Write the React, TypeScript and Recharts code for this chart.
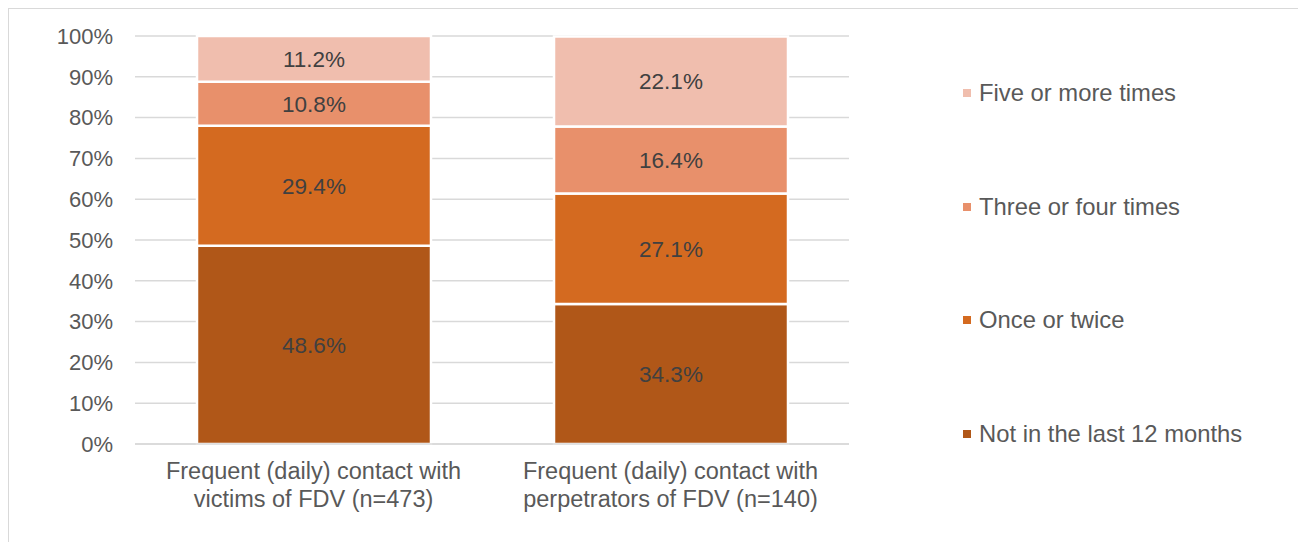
import React from "react";
import {
  BarChart,
  Bar,
  XAxis,
  YAxis,
  CartesianGrid,
  LabelList,
} from "recharts";

const categories = [
  "Frequent (daily) contact with|victims of FDV (n=473)",
  "Frequent (daily) contact with|perpetrators of FDV (n=140)",
];
const notInLast12 = [48.6, 34.3];
const onceOrTwice = [29.4, 27.1];
const threeOrFour = [10.8, 16.4];
const fiveOrMore = [11.2, 22.1];
const yTicks = [0, 10, 20, 30, 40, 50, 60, 70, 80, 90, 100];

const series = [
  { key: "notInLast12", name: "Not in the last 12 months", color: "#B05718" },
  { key: "onceOrTwice", name: "Once or twice", color: "#D46A20" },
  { key: "threeOrFour", name: "Three or four times", color: "#E8906B" },
  { key: "fiveOrMore", name: "Five or more times", color: "#F0BEAE" },
];

const data = categories.map((c, i) => ({
  name: c,
  notInLast12: notInLast12[i],
  onceOrTwice: onceOrTwice[i],
  threeOrFour: threeOrFour[i],
  fiveOrMore: fiveOrMore[i],
}));

const FONT = "'Liberation Sans', Arial, sans-serif";

function CategoryTick(props: any) {
  const { x, y, payload } = props;
  const lines = String(payload.value).split("|");
  return (
    <g transform={`translate(${x},${y})`}>
      {lines.map((l, i) => (
        <text
          key={i}
          x={0}
          y={27 + i * 28}
          textAnchor="middle"
          fill="#595959"
          fontSize={23.5}
          fontFamily={FONT}
        >
          {l}
        </text>
      ))}
    </g>
  );
}

function LegendBox() {
  const items = [...series].reverse();
  return (
    <div style={{ position: "absolute", left: 954, top: 71, width: 330, height: 400 }}>
      {items.map((s, i) => (
        <div
          key={s.key}
          style={{
            position: "absolute",
            left: 0,
            top: i * 113.7,
            display: "flex",
            alignItems: "center",
            height: 26,
            fontFamily: FONT,
            fontSize: 23.8,
            color: "#595959",
            whiteSpace: "nowrap",
          }}
        >
          <span
            style={{
              display: "inline-block",
              width: 8,
              height: 8,
              background: s.color,
              marginRight: 8,
            }}
          />
          {s.name}
        </div>
      ))}
    </div>
  );
}

export default function App() {
  return (
    <div
      style={{
        width: 1294,
        height: 540,
        borderTop: "1px solid #d9d9d9",
        borderLeft: "1px solid #d9d9d9",
        borderRight: "1px solid #d9d9d9",
        position: "relative",
        fontFamily: FONT,
      }}
    >
      <BarChart
        width={1294}
        height={540}
        data={data}
        margin={{ top: 27, right: 454, bottom: 0, left: 0 }}
      >
        <CartesianGrid vertical={false} stroke="#d9d9d9" strokeWidth={1.5} />
        <XAxis
          dataKey="name"
          height={105}
          tickLine={false}
          axisLine={{ stroke: "#d9d9d9", strokeWidth: 1.5 }}
          tick={<CategoryTick />}
          interval={0}
        />
        <YAxis
          domain={[0, 100]}
          ticks={yTicks}
          width={126}
          tickLine={false}
          axisLine={false}
          tickSize={0}
          tickMargin={22}
          tickFormatter={(v: number) => `${v}%`}
          tick={{ fill: "#595959", fontSize: 22, fontFamily: FONT }}
        />
        {series.map((s) => (
          <Bar
            key={s.key}
            dataKey={s.key}
            name={s.name}
            stackId="a"
            fill={s.color}
            stroke="#ffffff"
            strokeWidth={2.5}
            barSize={234}
            isAnimationActive={false}
          >
            <LabelList
              dataKey={s.key}
              position="center"
              formatter={(v: any) => `${Number(v).toFixed(1)}%`}
              fill="#404040"
              fontSize={22.5}
              fontFamily={FONT}
            />
          </Bar>
        ))}
      </BarChart>
      <LegendBox />
    </div>
  );
}
